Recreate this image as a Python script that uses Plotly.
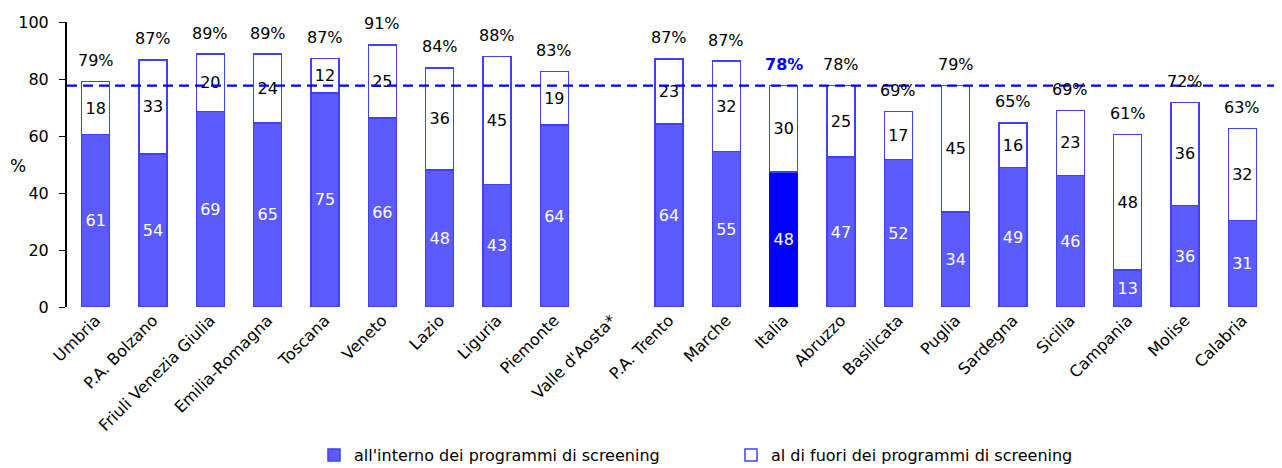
import plotly.graph_objects as go

categories = ["Umbria", "P.A. Bolzano", "Friuli Venezia Giulia", "Emilia-Romagna", "Toscana",
              "Veneto", "Lazio", "Liguria", "Piemonte", "Valle d'Aosta*", "P.A. Trento", "Marche",
              "Italia", "Abruzzo", "Basilicata", "Puglia", "Sardegna", "Sicilia", "Campania",
              "Molise", "Calabria"]

# bar heights as drawn (%)
inside_values = [60.5, 53.7, 68.6, 64.6, 75.1, 66.3, 48.1, 43.0, 63.8, None, 64.2, 54.5,
                 47.4, 52.6, 51.7, 33.3, 48.9, 46.2, 12.9, 35.6, 30.3]
outside_values = [18.6, 33.0, 20.1, 24.1, 12.1, 25.7, 35.8, 44.9, 18.9, None, 22.9, 31.8,
                  30.3, 25.1, 16.9, 44.5, 15.7, 22.8, 47.6, 36.2, 32.3]

# printed labels
inside_labels = ["61", "54", "69", "65", "75", "66", "48", "43", "64", "", "64", "55",
                 "48", "47", "52", "34", "49", "46", "13", "36", "31"]
outside_labels = ["18", "33", "20", "24", "12", "25", "36", "45", "19", "", "23", "32",
                  "30", "25", "17", "45", "16", "23", "48", "36", "32"]
total_labels = ["79%", "87%", "89%", "89%", "87%", "91%", "84%", "88%", "83%", "", "87%", "87%",
                "78%", "78%", "69%", "79%", "65%", "69%", "61%", "72%", "63%"]

italia_reference = 77.7

series_names = ["all'interno dei programmi di screening", "al di fuori dei programmi di screening"]

FONT = "DejaVu Sans"
FS = 16
LIGHT = "#5b5bff"
EDGE = "#4040ff"
DARK = "#0000ff"

inside_colors = [DARK if c == "Italia" else LIGHT for c in categories]
inside_edges = [DARK if c == "Italia" else EDGE for c in categories]

fig = go.Figure()
fig.add_trace(go.Bar(
    x=categories, y=inside_values, name=series_names[0],
    marker=dict(color=inside_colors, line=dict(color=inside_edges, width=1.5)),
    text=inside_labels, textposition="inside", insidetextanchor="middle",
    textfont=dict(color="white", size=FS, family=FONT), constraintext="none",
    width=0.49, hoverinfo="skip",
))
fig.add_trace(go.Bar(
    x=categories, y=outside_values, name=series_names[1],
    marker=dict(color="white", line=dict(color=EDGE, width=1.5)),
    text=outside_labels, textposition="inside", insidetextanchor="middle",
    textfont=dict(color="black", size=FS, family=FONT), constraintext="none",
    width=0.49, hoverinfo="skip",
))

for c, a, b, t in zip(categories, inside_values, outside_values, total_labels):
    if a is None:
        continue
    is_it = c == "Italia"
    fig.add_annotation(
        x=c, y=a + b, text=f"<b>{t}</b>" if is_it else t, showarrow=False,
        yanchor="middle", yshift=21,
        font=dict(size=FS, family=FONT, color=DARK if is_it else "black"),
    )

fig.add_shape(type="line", xref="paper", x0=0, x1=1.01, y0=italia_reference, y1=italia_reference,
              line=dict(color=DARK, width=2.3, dash="10px,6px"))

# page is offset by 8px body margin; figure coords = screen - 8
L, T, R_EDGE, B_EDGE = 59, 14, 1263, 299
W, H = 1282, 468
fig.add_annotation(xref="paper", yref="paper", x=(0 - L) / (R_EDGE - L), y=0.495, text="%",
                   showarrow=False, xanchor="left", yanchor="middle",
                   font=dict(size=FS + 1, family=FONT, color="black"))

fig.update_layout(
    width=W, height=H,
    barmode="stack",
    plot_bgcolor="white", paper_bgcolor="white",
    margin=dict(l=L, r=W - R_EDGE, t=T, b=H - B_EDGE, autoexpand=False),
    font=dict(family=FONT, size=FS, color="black"),
    showlegend=True,
    legend=dict(orientation="h", xref="container", yref="container",
                x=306 / W, y=1 - 447 / H, xanchor="left", yanchor="middle",
                entrywidth=372, entrywidthmode="pixels",
                font=dict(size=FS, family=FONT), itemwidth=30, traceorder="normal",
                bgcolor="rgba(0,0,0,0)"),
    xaxis=dict(type="category", tickangle=-45, showline=False, ticks="", showgrid=False,
               tickfont=dict(size=FS, family=FONT), range=[-0.5, len(categories) - 0.5]),
    yaxis=dict(range=[0, 100], tickvals=[0, 20, 40, 60, 80, 100], showline=True, linecolor="black",
               linewidth=2, ticks="outside", ticklen=6, tickcolor="black", showgrid=False,
               zeroline=False, tickfont=dict(size=FS, family=FONT), ticklabelstandoff=7),
)

fig.write_html("out.html")
